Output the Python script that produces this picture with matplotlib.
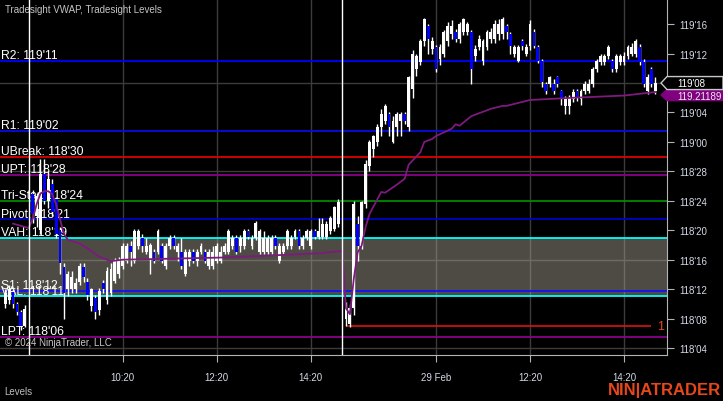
import numpy as np
import matplotlib
matplotlib.use("Agg")
import matplotlib.pyplot as plt
from matplotlib.patches import Polygon
from matplotlib.transforms import blended_transform_factory

plt.rcParams['font.family'] = ['Liberation Sans', 'DejaVu Sans']

# prices are in 32nds above 118'00  (e.g. 20 -> 118'20, 40 -> 119'08)
# bar slots: 5-min bars, 0 and 80 are the session breaks
bar_x = list(range(-6, 0)) + list(range(1, 80)) + list(range(81, 161))

opens = [10, 10.5, 11.6, 10, 8.9, 7,
         24.9, 22, 20, 27.7, 24, 26.3, 24.2, 20, 15, 12,
         12, 12, 13, 15, 13, 9.7, 10.8, 9.1, 12.9, 10.5,
         11.5, 13.1, 14, 15.1, 15.8, 17.9, 15.8, 17.9, 19, 17.1,
         16, 17.1, 17.1, 17.9, 15.1, 17.9, 19, 17.1, 17.1, 14.1,
         15.8, 17.1, 15.8, 17.1, 17.1, 15.1, 15.1, 15.8, 15.8, 17.1,
         17.1, 17.9, 19, 17.9, 17.9, 19.9, 17.9, 19, 17.1, 17.1,
         17.1, 17.1, 19, 15.8, 17.1, 17.9, 17.9, 19.1, 19.9, 17.9,
         19, 17.9, 19.9, 19.1, 19.1, 19.1, 19.9, 20.2, 20.8,
         8, 7.2, 9.5, 20.8, 17.9, 23.6, 28.7, 31, 32, 34,
         34.8, 35.8, 32, 34, 34.8, 35.8, 34, 39.2, 41.9, 42.9,
         45.7, 47.8, 44.6, 44.9, 43.3, 44, 45.7, 46.7, 46.9, 46,
         46.9, 46.9, 46.9, 43.7, 44.9, 43, 44.9, 46, 46, 46.7,
         46.7, 47.75, 46.7, 44, 43, 45.7, 44, 45, 46.9, 44.9,
         43, 39.9, 39.9, 39.9, 40.8, 38.9, 36.9, 36.9, 37.8, 38.9,
         37.8, 38.9, 38.9, 39.9, 41.9, 42.9, 42.9, 43.7, 43, 41.9,
         42.9, 42.9, 43.7, 44, 44, 44.9, 42.9, 38.9, 41.9, 38.9]

highs = [12, 12.5, 12, 10.3, 9.2, 9.8,
         25.5, 25, 29.7, 29.7, 28, 27, 24.5, 20.5, 15.5, 14.5,
         14.5, 13.5, 15.5, 15.5, 13.5, 12.2, 11.2, 12.2, 13.2, 15,
         15.6, 16.2, 16.3, 18.2, 18.2, 18.5, 20.2, 20.2, 19.5, 19,
         18.3, 17.5, 20.2, 18.2, 18.2, 19.3, 19.3, 18.2, 19, 17.4,
         17.4, 17.4, 17.4, 18.2, 17.4, 17.4, 17.9, 18.2, 17.9, 18.2,
         20.2, 19.3, 19.3, 19.3, 20.2, 20.2, 19.3, 21.3, 20.2, 19.9,
         19.3, 19.3, 19.3, 18.2, 18.2, 20.2, 19.3, 20.2, 20.2, 19.3,
         20.2, 20.2, 20.2, 21.6, 21.6, 21.3, 22, 23.3, 24.2,
         10.3, 10, 24, 21.9, 24, 29.5, 32.2, 33, 34.5, 36.5,
         37.2, 36, 35.5, 36, 36, 36, 41, 44.5, 44, 46,
         48.9, 48, 46.2, 45.2, 45.3, 47.2, 48.3, 48.5, 47.3, 48.3,
         48.9, 48.3, 47.2, 45.2, 46.5, 46, 47.2, 47.5, 48.5, 48.7,
         49, 48, 47, 45.2, 45.2, 46, 45.3, 48.5, 47.3, 45.2,
         43.2, 40.2, 41, 40.5, 41, 39, 38.2, 38.4, 39.2, 39.2,
         39.2, 40.3, 40.5, 42.2, 43.3, 44, 44, 45.2, 43.3, 44,
         44, 44.2, 45.2, 45.5, 46, 45.3, 43.2, 41.2, 42.2, 40.8]

lows = [9.5, 10, 9.5, 8.5, 6.5, 6.8,
        21, 20.5, 19.5, 23.5, 23, 22, 19, 14, 8, 11,
        11.5, 11.5, 12.5, 13, 10.5, 9, 7.9, 8.5, 11.5, 10,
        11, 12.8, 13.5, 14.8, 15.5, 15.1, 15.5, 17.5, 17.1, 16.8,
        14.1, 15.5, 16.8, 15.5, 14.8, 17.5, 17.5, 15.8, 14.8, 13.8,
        15.1, 15.5, 15.1, 16.8, 15.5, 14.8, 14.8, 15.5, 15.5, 16.8,
        16.8, 17.5, 16.8, 17.1, 17.5, 18.8, 17.5, 18.7, 16.8, 16.8,
        16.8, 16.8, 17.5, 15.5, 16.8, 17.5, 17.5, 18.8, 17.5, 17.5,
        18.7, 17.5, 18.8, 18.8, 18.8, 18.8, 19.5, 19.9, 20.5,
        7, 6.8, 8.5, 15.8, 17.5, 23, 28, 30, 31.5, 32.8,
        34.5, 32.8, 31.8, 32.8, 32.8, 34.5, 33.5, 38, 41, 42.5,
        45, 44, 44, 41.5, 42.5, 43.5, 45, 46, 45.6, 45.5,
        46.5, 46.5, 39.9, 43, 44.5, 42.5, 44.5, 45.5, 45.5, 45.8,
        46, 46, 44, 43.5, 42.8, 44.5, 43.7, 44.5, 44.7, 42.7,
        39.5, 38.5, 39.5, 38.5, 39.5, 37, 35.8, 35.8, 37.4, 37.5,
        37, 38.5, 38.6, 39.5, 41.5, 42.5, 42.4, 43.3, 41.5, 41.5,
        42.5, 42.5, 43.3, 43.7, 43.5, 42.5, 39.5, 38.5, 39.5, 38.5]

closes = [11.5, 12, 10, 8.9, 7, 9.3,
          22.2, 24.6, 27.7, 24, 27, 22.5, 19.5, 15.5, 11.5, 14,
          13.7, 12.9, 15.1, 13.7, 11.2, 12, 8.9, 11.8, 12, 14.5,
          14.8, 15.8, 15.8, 17.9, 17.9, 17.1, 19.9, 19.9, 17.9, 17.9,
          18, 15.8, 19.9, 15.8, 17.9, 19, 17.9, 17.9, 15.1, 17.1,
          17.1, 15.8, 17.1, 17.9, 15.8, 17.1, 17.1, 17.9, 17.1, 17.9,
          19.9, 19, 17.1, 19, 19.9, 19.1, 19, 21, 19.9, 19,
          19, 19, 17.9, 17.9, 17.9, 19.9, 19, 19.9, 17.9, 19,
          19.9, 19.9, 19.1, 19.9, 20.9, 20.9, 21.6, 23.1, 23.8,
          10, 9.5, 23.5, 17.9, 23.8, 29, 32, 32.8, 34, 35.8,
          36.9, 34, 34.8, 35.8, 35.8, 34.8, 40.8, 44, 43.7, 45.7,
          48.7, 46, 45.7, 41.9, 44.9, 46.9, 47.75, 47.75, 46, 48,
          48.7, 48, 41.9, 44.6, 46, 45.7, 46.9, 46.9, 48, 48,
          48.7, 46.9, 45, 44.9, 44.9, 45, 44.9, 48, 45, 43,
          40.1, 38.9, 40.8, 38.9, 39.9, 37.8, 37.8, 38, 38.8, 38,
          38.9, 39.9, 39.9, 41.9, 43, 43.7, 43.7, 44.9, 41.9, 43.7,
          43.7, 43.7, 44.9, 44.9, 45.7, 42.9, 39.9, 40.8, 39.9, 40]

# Tradesight VWAP
vwap_x = [-4, -2, 0, 1, 2, 3, 4, 5, 6, 7, 8, 9, 10, 13, 16, 18, 21, 24, 33, 50,
          59, 67, 75, 80, 81, 82, 83, 84, 85, 86, 87, 88, 90, 91, 94, 96, 97,
          100, 101, 103, 104, 108, 109, 110, 113, 116, 118, 121, 122, 128,
          139, 152, 160]
vwap_y = [20.9, 20.6, 20.3, 21.5, 23.5, 25.0, 25.3, 25.3, 24.9, 23.5, 21.5, 19.5,
          18.7, 18.2, 17.2, 16.4, 15.8, 16.0, 16.1, 16.3, 16.5, 16.7, 16.9, 17.2,
          9.4, 8.6, 13.4, 17.0, 17.9, 20.4, 22.2, 23.2, 25.2, 25.1, 26.2, 27.0,
          28.9, 30.6, 32.0, 32.4, 32.8, 33.8, 34.4, 34.2, 35.5, 36.1, 36.5, 36.9,
          36.9, 37.7, 38.0, 38.3, 38.78]

# Tradesight levels
level_names = ["R2", "R1", "UBreak", "UPT", "Tri-Star", "Pivot", "VAH", "S1", "VAL", "LPT"]
level_text = ["119'11", "119'02", "118'30", "118'28", "118'24", "118'21", "118'19",
              "118'12", "118'11", "118'06"]
level_price = [43, 33.5, 30, 27.5, 24, 21.5, 19, 11.75, 11, 5.5]
level_color = ["#0000ff", "#0a0ae0", "#e00000", "#8b008b", "#008a00", "#0000c8",
               "#00ffff", "#1010ff", "#00ffff", "#8b008b"]
value_area = (11, 19)
target_price = 7
target_from, target_to = 81, 159

last_price = 40
last_text = "119'08"
vwap_text = "119.21189"

xtick_pos = [24, 48, 72, 104, 128, 152]
xtick_lab = ["10:20", "12:20", "14:20", "29 Feb", "12:20", "14:20"]
ytick_pos = list(range(4, 49, 4))
grid_y = [4, 16, 28, 40]
session_breaks = [0, 80]


def fmt32(v):
    whole = 118 + int(v) // 32
    return f"{whole}'{int(v) % 32:02d}"


W, H = 723, 402
fig = plt.figure(figsize=(W / 100, H / 100), dpi=100, facecolor="black")
ax = fig.add_axes([0, 46 / H, 667 / W, 356 / H], facecolor="black")
ax.set_xlim(-7.33, 162.97)
ax.set_ylim(3.05, 51.42)

for g in grid_y:
    ax.axhline(g, color="#3c3c3c", lw=1, zorder=0)
for g in xtick_pos:
    ax.axvline(g, color="#3c3c3c", lw=1, zorder=0)

ax.axhspan(value_area[0], value_area[1], color="#a29f90", alpha=0.48, lw=0, zorder=1)

for p, c in zip(level_price, level_color):
    ax.axhline(p, color=c, lw=1.3, zorder=2)
ax.hlines(target_price, target_from, target_to, color="#dd1111", lw=1.2, zorder=2)
ax.text(161.2, target_price, "1", color="#e8471c", fontsize=9, va="center", ha="center", zorder=6)

tr = blended_transform_factory(ax.transAxes, ax.transData)
for name, txt, p in zip(level_names, level_text, level_price):
    ax.text(0.002, p + 0.35, f"{name}: {txt}", transform=tr, color="white",
            fontsize=8.7, va="baseline", ha="left", zorder=2.5)

# candles
bx = np.array(bar_x)
o = np.array(opens)
h = np.array(highs)
l = np.array(lows)
c = np.array(closes)
up = c >= o
ax.vlines(bx, l, h, color="white", lw=1, zorder=3)
body_low = np.minimum(o, c)
body_h = np.maximum(np.abs(c - o), 0.3)
ax.bar(bx[up], body_h[up], bottom=body_low[up], width=0.72, color="white", lw=0, zorder=3.5)
ax.bar(bx[~up], body_h[~up], bottom=body_low[~up], width=0.72, color="#0000ff", lw=0, zorder=3.5)

ax.plot(vwap_x, vwap_y, color="#7d1a7d", lw=1.3, zorder=4)

for s in session_breaks:
    ax.axvline(s, color="white", lw=1, zorder=5)

# axes
for sp in ["left", "top"]:
    ax.spines[sp].set_visible(False)
for sp in ["right", "bottom"]:
    ax.spines[sp].set_color("#b4b4b4")
ax.yaxis.tick_right()
ax.set_yticks(ytick_pos)
ax.set_yticklabels([fmt32(v) for v in ytick_pos])
ax.set_xticks(xtick_pos)
ax.set_xticklabels(xtick_lab)
ax.tick_params(axis="y", colors="#b4b4b4", labelcolor="#d2d9e6", labelsize=7, length=5, pad=4)
ax.tick_params(axis="x", colors="#b4b4b4", labelcolor="#d2d9e6", labelsize=7, length=5, pad=7)

# price markers on the right axis
ftr = blended_transform_factory(fig.transFigure, ax.transData)
hh = 6.5 / 7.36
x_tip, x_box, x_end = 661 / W, 667 / W, 723 / W
vw_top = last_price - hh
vw_bot = vw_top - 11 / 7.36
vw_mid = (vw_top + vw_bot) / 2
pur = Polygon([(x_tip, vw_mid), (x_box, vw_top), (x_end, vw_top), (x_end, vw_bot), (x_box, vw_bot)],
              closed=True, transform=ftr, facecolor="#800080", edgecolor="#800080", clip_on=False, zorder=7)
ax.add_patch(pur)
ax.text(677 / W, vw_mid - 0.1, vwap_text, transform=ftr, color="#f0e8f0", fontsize=7, va="center",
        ha="left", clip_on=False, zorder=7.5)
blk = Polygon([(x_tip, last_price), (x_box, last_price + hh), (x_end, last_price + hh),
               (x_end, last_price - hh), (x_box, last_price - hh)],
              closed=True, transform=ftr, facecolor="black", edgecolor="#c8c8c8", lw=1, clip_on=False, zorder=8)
ax.add_patch(blk)
ax.text(677 / W, last_price, last_text, transform=ftr, color="white", fontsize=7, va="center",
        ha="left", clip_on=False, zorder=8.5)

fig.text(5 / W, 1 - 10 / H, "Tradesight VWAP, Tradesight Levels", color="#c4c4c4", fontsize=7, va="center")
fig.text(5 / W, 1 - 343 / H, "© 2024 NinjaTrader, LLC", color="#c8c8c8", fontsize=7, va="center", zorder=10)
fig.text(4 / W, 1 - 392 / H, "Levels", color="#bdbdbd", fontsize=7, va="center")
fig.text(721 / W, 1 - 391 / H, "NIN|ATRADER", color="#e8471c", fontsize=12, fontweight="bold",
         ha="right", va="center")

fig.savefig("out.png", dpi=100, facecolor="black")
